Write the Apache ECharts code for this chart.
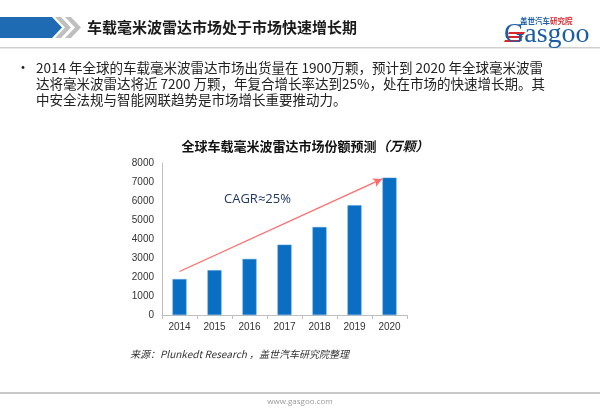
<!DOCTYPE html>
<html>
<head>
<meta charset="utf-8">
<script src="https://cdn.jsdelivr.net/npm/echarts@6/dist/echarts.min.js"></script>
<style>
html,body{margin:0;padding:0;background:#fff;}
#chart{width:600px;height:408px;}
</style>
</head>
<body>
<div id="chart"></div>
<script>
// ---- data ----
var categories = ['2014', '2015', '2016', '2017', '2018', '2019', '2020'];
var shipments = [1890, 2360, 2950, 3700, 4630, 5780, 7230]; // 万颗
var yTicks = [0, 1000, 2000, 3000, 4000, 5000, 6000, 7000, 8000];
var trendStart = [0.5, 2290];   // [category position, value]
var trendEnd = [6.29, 7160];
var pageTitle = '车载毫米波雷达市场处于市场快速增长期';
var bodyLines = [
  '2014 年全球的车载毫米波雷达市场出货量在 1900万颗，预计到 2020 年全球毫米波雷',
  '达将毫米波雷达将近 7200 万颗，年复合增长率达到25%，处在市场的快速增长期。其',
  '中安全法规与智能网联趋势是市场增长重要推动力。'
];
var chartTitle = '全球车载毫米波雷达市场份额预测';
var chartUnit = '（万颗）';
var cagrText = 'CAGR≈25%';
var sourceText = '来源：Plunkedt Research ，盖世汽车研究院整理';
var siteText = 'www.gasgoo.com';

var chart = echarts.init(document.getElementById('chart'), null, {renderer: 'canvas'});
var CJK = '"Noto Sans CJK SC", "Noto Sans", sans-serif';

var graphics = [
  // header blue arrow
  {type: 'polygon', shape: {points: [[0,17],[52,17],[62,27.5],[52,38],[0,38]]}, style: {fill: '#1E6BB3'}},
  {type: 'polygon', shape: {points: [[55,17],[61,17],[71,27.5],[61,38],[55,38],[65,27.5]]}, style: {fill: '#BFBFBF'}},
  {type: 'polygon', shape: {points: [[65,17],[71,17],[81,27.5],[71,38],[65,38],[75,27.5]]}, style: {fill: '#BFBFBF'}},
  {type: 'text', left: 87, top: 20, style: {text: pageTitle, font: 'bold 15px ' + CJK, fill: '#1a1a1a'}},
  // header line
  {type: 'rect', shape: {x: 0, y: 47, width: 600, height: 1.5}, style: {fill: '#D0D0D0'}},
  // logo
  {type: 'text', left: 504, top: 21, style: {text: 'Gasgoo', font: '28px "Liberation Serif", serif', fill: '#1B5EA6'}},
  {type: 'rect', shape: {x: 505, y: 20, width: 14, height: 25}, style: {fill: '#fff'}},
  {type: 'polygon', shape: {points: [[509,32],[525,32],[524,34],[508,34]]}, style: {fill: '#D9272E'}},
  {type: 'polygon', shape: {points: [[507,36],[523,36],[522,38],[506,38]]}, style: {fill: '#D9272E'}},
  {type: 'polygon', shape: {points: [[505,40],[521,40],[520,42],[504,42]]}, style: {fill: '#D9272E'}},
  {type: 'text', left: 504, top: 21, style: {text: 'G', font: '28px "Liberation Serif", serif', fill: '#1B5EA6'}},
  {type: 'text', left: 520, top: 17, style: {text: '{b|盖世汽车}{r|研究院}', rich: {
    b: {font: 'bold 7.5px ' + CJK, fill: '#1B5EA6'},
    r: {font: 'bold 7.5px ' + CJK, fill: '#D9272E'}
  }}},
  // bullet and body text
  {type: 'text', left: 16, top: 60, style: {text: '•', font: '14px ' + CJK, fill: '#222'}},
  {type: 'text', left: 36, top: 61, style: {text: bodyLines[0], font: '13.5px ' + CJK, fill: '#222'}},
  {type: 'text', left: 36, top: 77, style: {text: bodyLines[1], font: '13.5px ' + CJK, fill: '#222'}},
  {type: 'text', left: 36, top: 93, style: {text: bodyLines[2], font: '13.5px ' + CJK, fill: '#222'}},
  // CAGR annotation
  {type: 'text', left: 224, top: 193, style: {text: cagrText, font: '13px "Open Sans", sans-serif', fill: '#1F3864'}},
  // source + footer
  {type: 'text', left: 130, top: 349, style: {text: sourceText, font: 'italic 10px ' + CJK, fill: '#333'}},
  {type: 'rect', shape: {x: 0, y: 392, width: 600, height: 2}, style: {fill: '#C8C8C8'}},
  {type: 'text', left: 'center', top: 398, style: {text: siteText, font: '8px "Open Sans", sans-serif', fill: '#9A9A9A'}}
];

var option = {
  animation: false,
  backgroundColor: '#fff',
  title: {
    text: '{t|' + chartTitle + '}{u|' + chartUnit + '}',
    left: 300, textAlign: 'center', top: 135,
    textStyle: {rich: {
      t: {fontFamily: CJK, fontWeight: 'bold', fontSize: 13, color: '#111'},
      u: {fontFamily: CJK, fontWeight: 'bold', fontStyle: 'italic', fontSize: 13, color: '#111'}
    }}
  },
  grid: {left: 162, right: 193, top: 163, bottom: 93, containLabel: false},
  xAxis: [{
    type: 'category', data: categories,
    axisLine: {lineStyle: {color: '#BFBFBF'}},
    axisTick: {show: true, alignWithLabel: false, length: 4, lineStyle: {color: '#BFBFBF'}},
    axisLabel: {color: '#333', fontSize: 10, fontFamily: '"Liberation Sans", sans-serif', margin: 7}
  }, {
    type: 'value', min: 0, max: categories.length, show: false
  }],
  yAxis: {
    type: 'value', min: yTicks[0], max: yTicks[yTicks.length - 1], interval: yTicks[1] - yTicks[0],
    axisLine: {show: true, lineStyle: {color: '#BFBFBF'}},
    axisTick: {show: false},
    splitLine: {show: false},
    axisLabel: {color: '#333', fontSize: 10, fontFamily: '"Liberation Sans", sans-serif', margin: 8,
      formatter: function (v) { return String(v); }}
  },
  series: [{
    type: 'bar', data: shipments, barWidth: 14,
    itemStyle: {color: '#0A6EC2', borderColor: '#4C9BDB', borderWidth: 0.5}
  }, {
    type: 'line', xAxisIndex: 1, data: [], symbol: 'none',
    markLine: {
      silent: true, symbol: ['none', 'arrow'], symbolSize: [7, 9],
      label: {show: false},
      lineStyle: {color: '#FF6B6B', width: 1.3, type: 'solid'},
      data: [[{coord: trendStart}, {coord: trendEnd}]]
    }
  }],
  graphic: graphics
};
chart.setOption(option);
</script>
</body>
</html>
